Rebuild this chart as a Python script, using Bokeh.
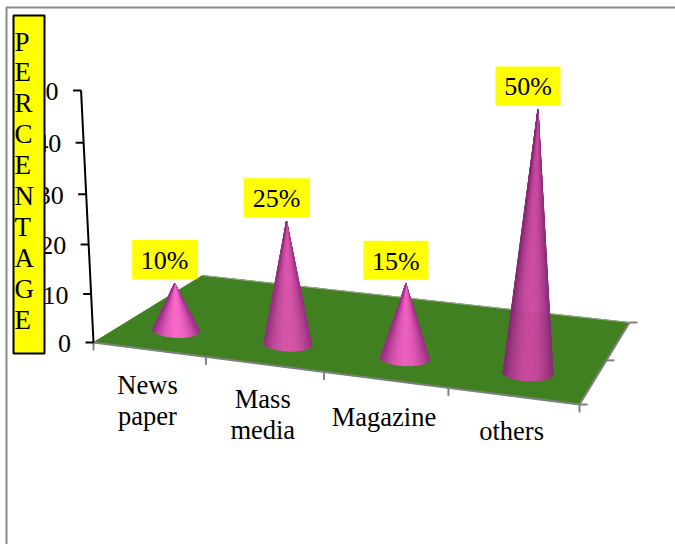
from bokeh.embed import file_html
from bokeh.models import Range1d
from bokeh.plotting import figure
from bokeh.resources import INLINE
from bokeh.core.properties import value
import numpy as np

categories = ["News paper", "Mass media", "Magazine", "others"]
percentages = [10, 25, 15, 50]
y_ticks = [0, 10, 20, 30, 40, 50]
y_title = "PERCENTAGE"

# Label wrapping and small vertical nudges for the category names
category_lines = [["News", "paper"], ["Mass", "media"], ["Magazine"], ["others"]]
category_nudge = [0, 0, 2, 0]

# Cone colours: bright centre band and dark edge for each cone
cone_light = ["#FC68CC", "#DC56AE", "#F060C0", "#CC4AA2"]
cone_dark = ["#9A2C86", "#96307F", "#9A2C86", "#862C76"]

SERIF = value("Liberation Serif")
FLOOR = "#408020"
EDGE = "#808080"

# Floor corners on the page: front-left, front-right, back-right, back-left
corners = np.array([[93, 342], [579, 404], [629, 322], [202, 275]], float)


def floor_homography(c):
    (x0, y0), (x1, y1), (x2, y2), (x3, y3) = c
    dx1, dx2, sx = x1 - x2, x3 - x2, x0 - x1 + x2 - x3
    dy1, dy2, sy = y1 - y2, y3 - y2, y0 - y1 + y2 - y3
    den = dx1 * dy2 - dx2 * dy1
    g = (sx * dy2 - dx2 * sy) / den
    h = (dx1 * sy - sx * dy1) / den
    return np.array([[x1 - x0 + g * x1, x3 - x0 + h * x3, x0],
                     [y1 - y0 + g * y1, y3 - y0 + h * y3, y0],
                     [g, h, 1.0]])


H = floor_homography(corners)
VANISH = np.array([340.0, 5342.0])   # where the chart's verticals converge
UNIT = 4.80                          # pixels per percentage point at the axis corner


def on_floor(u, v):
    """Page position of a point on the floor, and its perspective scale."""
    q = H @ np.array([u, v, 1.0])
    return q[:2] / q[2], 1.0 / q[2]


def raised(base, scale, z):
    """Page position of a point z percentage points above a floor point."""
    s = UNIT * scale ** 0.9
    t = -s / (VANISH[1] - base[1])
    return (base + z * t * VANISH) / (1 + z * t)


def mix(a, b, f):
    ca = np.array([int(a[i:i + 2], 16) for i in (1, 3, 5)])
    cb = np.array([int(b[i:i + 2], 16) for i in (1, 3, 5)])
    c = (ca + (cb - ca) * f).round().astype(int)
    return "#%02x%02x%02x" % tuple(c)


p = figure(width=675, height=544, output_backend="svg", toolbar_location=None,
           x_range=Range1d(0, 675), y_range=Range1d(544, 0),
           min_border=0, outline_line_color=None, background_fill_color="white")
p.xaxis.visible = False
p.yaxis.visible = False
p.grid.visible = False

# Page frame
p.line([6, 6, 675], [544, 7, 7], line_color="#888888", line_width=2)

# Floor
p.patch(list(corners[:, 0]), list(corners[:, 1]), fill_color=FLOOR,
        line_color=FLOOR, line_width=1)
p.line([corners[3, 0], corners[2, 0]], [corners[3, 1], corners[2, 1]],
       line_color="#9aa890", line_width=1)
p.line(list(corners[[0, 1, 2], 0]), list(corners[[0, 1, 2], 1]),
       line_color=EDGE, line_width=2)

# Category ticks along the front edge, depth ticks along the right edge
for i in range(len(categories) + 1):
    b, _ = on_floor(i / len(categories), 0)
    p.line([b[0], b[0]], [b[1], b[1] + 8], line_color=EDGE, line_width=2)
for v in (0, 0.5, 1):
    b, _ = on_floor(1, v)
    p.line([b[0], b[0] + 8], [b[1], b[1]], line_color=EDGE, line_width=2)

# Value axis
axis_base, axis_scale = on_floor(0, 0)
axis_pts = [raised(axis_base, axis_scale, t) for t in y_ticks]
p.line([a[0] for a in axis_pts], [a[1] for a in axis_pts],
       line_color="black", line_width=2)
for t, a in zip(y_ticks, axis_pts):
    p.line([a[0] - 8, a[0]], [a[1], a[1]], line_color="black", line_width=2)
p.text([a[0] - 22.5 for a in axis_pts], [a[1] + 1 for a in axis_pts],
       text=[str(t) for t in y_ticks], text_font=SERIF, text_font_size="26px",
       text_align="right", text_baseline="middle", text_color="black")

# Cones: fans of thin triangles shaded across the visible surface
angles = np.linspace(0, np.pi, 61)
xs, ys, colors = [], [], []
apexes = []
for i, pct in enumerate(percentages):
    base, scale = on_floor((i + 0.5) / len(categories) - 0.003, 0.25)
    apex = raised(base, scale, pct)
    apexes.append(apex)
    half = 24.0 * scale ** 0.8
    ex = base[0] + half * np.cos(angles)
    ey = base[1] + 0.30 * half * np.sin(angles) + 0.04 * half * np.cos(angles)
    for k in range(len(angles) - 1):
        mid = np.cos((angles[k] + angles[k + 1]) / 2)
        xs.append([apex[0], ex[k], ex[k + 1]])
        ys.append([apex[1], ey[k], ey[k + 1]])
        colors.append(mix(cone_dark[i], cone_light[i], 1 - abs(mid) ** 2.0))
p.patches(xs, ys, fill_color=colors, line_color=colors, line_width=0.6)

# Value labels on yellow tags above each cone
cx = [a[0] - 10 for a in apexes]
cy = [a[1] - 23.5 for a in apexes]
p.quad(left=[c - 32.5 for c in cx], right=[c + 32.5 for c in cx],
       top=[c - 19.5 for c in cy], bottom=[c + 19.5 for c in cy],
       fill_color="#FFFF00", line_color=None)
p.text(cx, [c + 1 for c in cy], text=[f"{pct}%" for pct in percentages],
       text_font=SERIF, text_font_size="26px", text_align="center",
       text_baseline="middle", text_color="black")

# Category names below the front edge
lx, ly, lt = [], [], []
for i, lines in enumerate(category_lines):
    b, _ = on_floor((i + 0.5) / len(categories), 0)
    for j, line in enumerate(lines):
        lx.append(b[0] - 1.5)
        ly.append(b[1] + 35 + category_nudge[i] + 31 * j)
        lt.append(line)
p.text(lx, ly, text=lt, text_font=SERIF, text_font_size="26.5px",
       text_align="center", text_baseline="middle", text_color="black")

# Vertical axis title in a yellow box, laid over the tick labels
p.quad(left=[13], right=[44], top=[15], bottom=[353], fill_color="#FFFF00",
       line_color="black", line_width=2)
p.text([14] * len(y_title), [41 + 30.9 * k for k in range(len(y_title))],
       text=list(y_title), text_font=SERIF, text_font_size="27px",
       text_align="left", text_baseline="middle", text_color="black")

open("out.html", "w").write(file_html(p, INLINE))
